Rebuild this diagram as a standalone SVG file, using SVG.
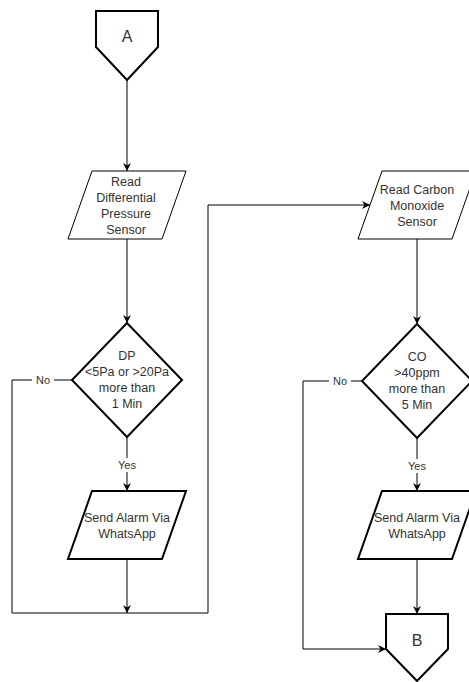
<svg xmlns="http://www.w3.org/2000/svg" width="469" height="682" viewBox="0 0 469 682">
<defs>
<marker id="arr" markerWidth="10" markerHeight="10" refX="8" refY="4" orient="auto" markerUnits="userSpaceOnUse"><path d="M0,0 L8,4 L0,8 L2.5,4 z" fill="#000"/></marker>
<style>
.thin{fill:#fff;stroke:#000;stroke-width:1}
.thick{fill:#fff;stroke:#000;stroke-width:2;stroke-linejoin:miter}
.t{font-family:"Liberation Sans",Arial,sans-serif;font-size:12.5px;fill:#333;text-anchor:middle}
.big{font-size:16px}
.lbl{font-family:"Liberation Sans",Arial,sans-serif;font-size:11px;fill:#333;text-anchor:middle}
.e{fill:none;stroke:#000;stroke-width:1}
.lb{fill:#fff}
</style>
</defs>
<rect width="469" height="682" fill="#fff"/>
<g id="connectors">
<path class="e" d="M127,80 V171" marker-end="url(#arr)"/>
<path class="e" d="M127,239 V323" marker-end="url(#arr)"/>
<path class="e" d="M127,437 V491" marker-end="url(#arr)"/>
<path class="e" d="M127,559 V613" marker-end="url(#arr)"/>
<path class="e" d="M72,380 H12 V613 H208 V205 H370" marker-end="url(#arr)"/>
<path class="e" d="M417,239 V324" marker-end="url(#arr)"/>
<path class="e" d="M417,438 V491" marker-end="url(#arr)"/>
<path class="e" d="M417,559 V614" marker-end="url(#arr)"/>
<path class="e" d="M362,381 H303 V649 H386" marker-end="url(#arr)"/>
<rect class="lb" x="114" y="458" width="26" height="14"/>
<text class="lbl" x="127" y="469">Yes</text>
<rect class="lb" x="32" y="373" width="22" height="14"/>
<text class="lbl" x="43" y="384">No</text>
<rect class="lb" x="404" y="459" width="26" height="14"/>
<text class="lbl" x="417" y="470">Yes</text>
<rect class="lb" x="329" y="374" width="22" height="14"/>
<text class="lbl" x="340" y="385">No</text>
</g>
<g id="nodeA">
<polygon class="thick" points="96,11 158,11 158,47 127,80 96,47"/>
<text class="t big" x="127" y="42">A</text>
</g>
<g id="readDP">
<polygon class="thin" points="92,171 186,171 162,239 68,239"/>
<text class="t" x="126" y="185.5">Read</text>
<text class="t" x="126" y="201.5">Differential</text>
<text class="t" x="126" y="217.5">Pressure</text>
<text class="t" x="126" y="233.5">Sensor</text>
</g>
<g id="decDP">
<polygon class="thick" points="127,323 182,380 127,437 72,380"/>
<text class="t" x="127" y="360">DP</text>
<text class="t" x="127" y="376">&lt;5Pa or &gt;20Pa</text>
<text class="t" x="127" y="392">more than</text>
<text class="t" x="127" y="408">1 Min</text>
</g>
<g id="alarm1">
<polygon class="thick" points="92,491 186,491 162,559 68,559"/>
<text class="t" x="127" y="521.5">Send Alarm Via</text>
<text class="t" x="127" y="537.5">WhatsApp</text>
</g>
<g id="readCO">
<polygon class="thin" points="382,171 476,171 452,239 358,239"/>
<text class="t" x="417" y="193.5">Read Carbon</text>
<text class="t" x="417" y="209.5">Monoxide</text>
<text class="t" x="417" y="225.5">Sensor</text>
</g>
<g id="decCO">
<polygon class="thick" points="417,324 472,381 417,438 362,381"/>
<text class="t" x="417" y="361">CO</text>
<text class="t" x="417" y="377">&gt;40ppm</text>
<text class="t" x="417" y="393">more than</text>
<text class="t" x="417" y="409">5 Min</text>
</g>
<g id="alarm2">
<polygon class="thick" points="382,491 476,491 452,559 358,559"/>
<text class="t" x="417" y="521.5">Send Alarm Via</text>
<text class="t" x="417" y="537.5">WhatsApp</text>
</g>
<g id="nodeB">
<polygon class="thick" points="386,614 448,614 448,649 417,681 386,649"/>
<text class="t big" x="417" y="646">B</text>
</g>
</svg>
